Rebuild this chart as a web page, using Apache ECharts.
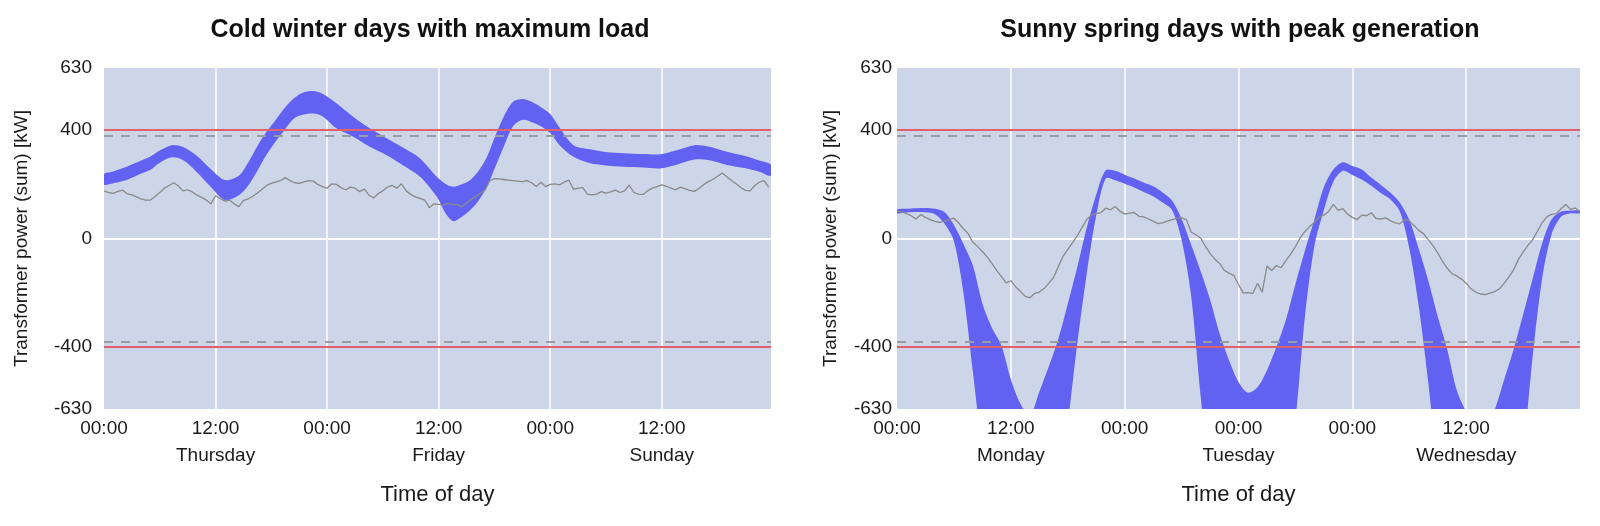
<!DOCTYPE html>
<html>
<head>
<meta charset="utf-8">
<title>Transformer power</title>
<script src="https://cdn.jsdelivr.net/npm/echarts@6.0.0/dist/echarts.min.js"></script>
<style>
  html, body { margin: 0; padding: 0; background: #fff; }
  #chart { width: 1600px; height: 526px; }
</style>
</head>
<body>
<div id="chart"></div>
<script>
// ---- data (hours from start, kW) ----
const winterBandHours = [0, 1, 2.5, 4, 5, 6, 7.3, 8.5, 10, 11.5, 13, 14.5, 15.5, 16.5, 17.5, 18.5, 19.5, 20.5, 21.5, 22.5,
  23.5, 25, 26.8, 28.6, 30.4, 32.2, 34, 35.8, 36.8, 37.6, 38.5, 39.4, 40.3, 41.2, 42.1, 43, 44, 45, 46, 47,
  48, 49, 50.5, 52.3, 54, 55.9, 58, 59.8, 61.5, 63.5, 65, 67, 69, 70.5, 71.75];
const winterUpper = [238, 248, 266, 288, 303, 325, 345, 338, 305, 256, 216, 232, 280, 342, 395, 440, 485, 520, 540, 545,
  535, 500, 450, 407, 370, 335, 296, 228, 200, 191, 200, 216, 250, 302, 380, 450, 505, 515, 505, 485,
  460, 410, 345, 330, 320, 315, 312, 311, 325, 345, 340, 321, 305, 288, 272];
const winterLower = [199, 204, 217, 240, 254, 280, 300, 290, 245, 190, 142, 160, 195, 250, 310, 360, 405, 445, 458, 462,
  452, 407, 376, 339, 308, 270, 228, 154, 90, 64, 80, 105, 140, 191, 265, 339, 415, 438, 430, 415,
  390, 345, 302, 278, 270, 265, 262, 259, 272, 292, 290, 272, 260, 247, 232];
// measured load, one value every 30 min
const winterMeasured = [175, 170, 167, 174, 179, 165, 161, 154, 146, 142,
  142, 155, 170, 186, 196, 206, 194, 176, 180, 172,
  160, 152, 142, 128, 158, 148, 138, 142, 128, 118,
  140, 146, 156, 168, 182, 196, 204, 209, 214, 225,
  214, 206, 204, 209, 214, 212, 200, 192, 186, 202,
  200, 188, 180, 190, 186, 173, 183, 160, 150, 166,
  176, 190, 196, 186, 202, 176, 163, 154, 148, 142,
  114, 128, 126, 124, 130, 126, 124, 118, 132, 144,
  155, 167, 179, 214, 221, 220, 218, 216, 214, 212,
  210, 214, 206, 192, 208, 192, 200, 202, 198, 208,
  216, 182, 186, 188, 164, 161, 164, 173, 168, 172,
  179, 170, 176, 197, 170, 164, 163, 177, 186, 192,
  198, 193, 186, 180, 190, 184, 178, 174, 185, 199,
  210, 218, 230, 242, 228, 214, 202, 188, 178, 176,
  196, 208, 214, 190];

// spring band, one value per hour
const springUpper = [107, 110, 112, 113, 110, 98, 50, -20, -100, -240,
  -330, -395, -520, -610, -655, -566, -473, -372, -242, -106,
  40, 162, 252, 250, 236, 222, 207, 193, 170, 140,
  72, -22, -120, -225, -350, -450, -530, -570, -550, -487,
  -400, -300, -168, -45, 70, 190, 255, 282, 268, 255,
  225, 198, 170, 133, 69, -38, -155, -287, -410, -560,
  -640, -690, -690, -632, -522, -410, -282, -150, -19, 70,
  100, 103, 103];
const springLower = [93, 96, 98, 97, 90, 55, -10, -200, -493, -780,
  -950, -1100, -1220, -1280, -1290, -1250, -1150, -980, -690, -390,
  -130, 85, 222, 215, 202, 188, 172, 156, 133, 105,
  -5, -210, -580, -900, -1150, -1300, -1350, -1340, -1280, -1180,
  -1050, -900, -670, -290, -28, 105, 210, 250, 235, 218,
  195, 168, 145, 100, -35, -250, -530, -860, -1100, -1250,
  -1330, -1370, -1350, -1300, -1200, -1050, -800, -440, -150, 15,
  80, 93, 93];
const springMeasured = [101, 98, 92, 84, 72, 88, 78, 70, 63, 60,
  64, 70, 75, 58, 36, 18, -14, -30, -48, -68,
  -92, -118, -140, -164, -156, -178, -195, -213, -219, -203,
  -198, -185, -166, -144, -104, -66, -40, -16, 10, 40,
  70, 86, 92, 96, 112, 106, 118, 101, 90, 94,
  96, 82, 80, 72, 64, 55, 58, 64, 70, 74,
  76, 70, 24, 14, 2, -28, -55, -76, -92, -118,
  -128, -136, -170, -201, -200, -203, -166, -198, -102, -118,
  -100, -108, -82, -58, -30, 2, 26, 44, 60, 80,
  86, 100, 126, 104, 110, 90, 78, 70, 86, 84,
  95, 74, 72, 76, 66, 58, 54, 70, 65, 48,
  30, 18, -4, -26, -53, -84, -110, -130, -138, -150,
  -165, -186, -198, -205, -207, -202, -196, -186, -166, -142,
  -116, -78, -50, -26, -5, 26, 58, 80, 89, 92,
  110, 126, 108, 113, 98];

const yTicks = [-630, -400, 0, 400, 630];
const xTicks = [0, 12, 24, 36, 48, 60];
const xGridHours = [12, 24, 36, 48, 60];
const winterLabels = ['00:00', '12:00\nThursday', '00:00', '12:00\nFriday', '00:00', '12:00\nSunday'];
const springLabels = ['00:00', '12:00\nMonday', '00:00', '00:00\nTuesday', '00:00', '12:00\nWednesday'];
const limitLines = [400, -400];
const warnLines = [380, -380];

const FONT = '"Liberation Sans", Arial, Helvetica, sans-serif';
const TEXT = '#1a1a1a';
const BAND = '#6262f2';

const pairs = (hours, vals) => vals.map((v, i) => [hours[i], v]);
const halfHours = (n) => Array.from({ length: n }, (_, i) => i * 0.5);
const wholeHours = (n) => Array.from({ length: n }, (_, i) => i);

function axes(grid, max, labels, labelMargin, nameGap) {
  return {
    x: {
      type: 'value', gridIndex: grid, min: 0, max: max,
      axisLine: { show: false },
      axisTick: { show: false, customValues: xGridHours },
      axisLabel: {
        customValues: xTicks,
        formatter: (v) => labels[Math.round(v / 12)],
        fontSize: 19, lineHeight: 27, margin: 6, color: TEXT, fontFamily: FONT
      },
      splitLine: { show: true, lineStyle: { color: '#ffffff', width: 1.5 } },
      name: 'Time of day', nameLocation: 'middle', nameGap: 75,
      nameTextStyle: { fontSize: 22, color: TEXT, fontFamily: FONT }
    },
    y: {
      type: 'value', gridIndex: grid, min: -630, max: 630,
      axisLine: { show: false },
      axisTick: { show: false, customValues: [0] },
      axisLabel: { customValues: yTicks, fontSize: 19, margin: labelMargin, color: TEXT, fontFamily: FONT },
      splitLine: { show: true, lineStyle: { color: '#ffffff', width: 2 } },
      name: 'Transformer power (sum) [kW]', nameLocation: 'middle', nameGap: nameGap,
      nameTextStyle: { fontSize: 19, color: TEXT, fontFamily: FONT }
    }
  };
}

// band between lower and upper estimate, drawn as one polygon through the axes
function bandSeries(grid, hours, upper, lower) {
  return {
    type: 'custom', xAxisIndex: grid, yAxisIndex: grid, clip: true, silent: true,
    data: [[hours[0], upper[0]]],
    renderItem: (params, api) => {
      const pts = hours.map((h, i) => api.coord([h, upper[i]]));
      for (let i = hours.length - 1; i >= 0; i--) pts.push(api.coord([hours[i], lower[i]]));
      return { type: 'polygon', shape: { points: pts, smooth: 0.3 }, style: { fill: BAND } };
    }
  };
}

function measuredSeries(grid, values) {
  const lim = limitLines.map((y) => ({ yAxis: y, lineStyle: { color: '#e2606a', width: 2.2, type: 'solid' } }));
  const warn = warnLines.map((y) => ({ yAxis: y, lineStyle: { color: '#9a9da6', width: 2, type: [9, 8] } }));
  return {
    type: 'line', xAxisIndex: grid, yAxisIndex: grid,
    data: pairs(halfHours(values.length), values), showSymbol: false,
    lineStyle: { color: '#8a8a8a', width: 1.3 },
    markLine: { silent: true, symbol: 'none', label: { show: false }, animation: false, data: lim.concat(warn) }
  };
}

const left = axes(0, 71.75, winterLabels, 12, 73);
const right = axes(1, 72, springLabels, 5, 57);

const chart = echarts.init(document.getElementById('chart'), null, { renderer: 'canvas' });
chart.setOption({
  animation: false,
  backgroundColor: '#ffffff',
  title: [
    { text: 'Cold winter days with maximum load', left: 425, top: 13, textAlign: 'center',
      textStyle: { fontSize: 25, fontWeight: 'bold', color: '#111', fontFamily: FONT } },
    { text: 'Sunny spring days with peak generation', left: 1235, top: 13, textAlign: 'center',
      textStyle: { fontSize: 25, fontWeight: 'bold', color: '#111', fontFamily: FONT } }
  ],
  grid: [
    { left: 104, top: 68, width: 667, height: 341, show: true, backgroundColor: '#cdd5e9', borderWidth: 0, outerBoundsMode: 'none' },
    { left: 897, top: 68, width: 683, height: 341, show: true, backgroundColor: '#cdd5e9', borderWidth: 0, outerBoundsMode: 'none' }
  ],
  xAxis: [left.x, right.x],
  yAxis: [left.y, right.y],
  series: [
    bandSeries(0, winterBandHours, winterUpper, winterLower),
    measuredSeries(0, winterMeasured),
    bandSeries(1, wholeHours(springUpper.length), springUpper, springLower),
    measuredSeries(1, springMeasured)
  ]
});
</script>
</body>
</html>
